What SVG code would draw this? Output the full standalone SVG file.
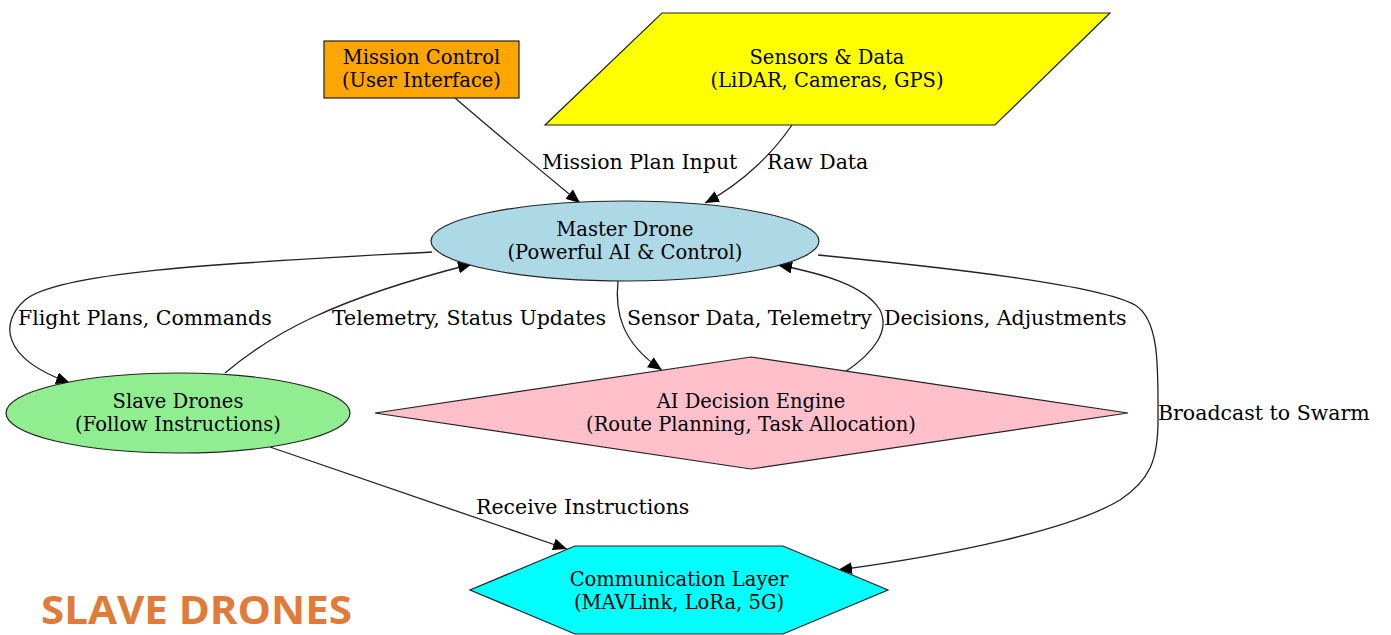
<svg xmlns="http://www.w3.org/2000/svg" width="1391" height="635" viewBox="0 0 1391 635">
  <style>
    .node { stroke: #222; stroke-width: 1.2; }
    .lbl { font-family: "DejaVu Serif", serif; font-size: 19.5px; fill: #000; text-anchor: middle; dominant-baseline: central; }
    .elbl { font-family: "DejaVu Serif", serif; font-size: 20.5px; fill: #000; dominant-baseline: central; }
    .edge { fill: none; stroke: #222; stroke-width: 1.3; marker-end: url(#arrow); }
    .title { font-family: "Open Sans", "Noto Sans", sans-serif; font-weight: bold; font-size: 40px; fill: #E07B39; }
  </style>
  <defs>
    <marker id="arrow" markerUnits="userSpaceOnUse" markerWidth="14" markerHeight="12" viewBox="0 0 14 12" refX="14" refY="6" orient="auto">
      <path d="M0,0 L14,6 L0,12 Z" fill="#000"/>
    </marker>
  </defs>
  <rect width="1391" height="635" fill="#fff"/>

  <g id="edges">
    <path class="edge" d="M455,98 C490,128 540,170 580,203"/>
    <path class="edge" d="M792,125 C775,150 745,182 705,203"/>
    <path class="edge" d="M432,252 C250,262 60,270 25,300 C0,322 0,358 70,383"/>
    <path class="edge" d="M225,373 C270,335 330,300 472,264"/>
    <path class="edge" d="M618,281 C615,310 620,342 662,370"/>
    <path class="edge" d="M845,372 C875,352 890,330 880,310 C865,285 820,273 778,265"/>
    <path class="edge" d="M818,255 C950,268 1100,285 1135,305 C1160,320 1158,370 1158,420 C1158,460 1150,480 1120,500 C1070,530 950,555 838,570"/>
    <path class="edge" d="M270,447 L567,549"/>
    <text class="elbl" x="542" y="162">Mission Plan Input</text>
    <text class="elbl" x="767" y="162">Raw Data</text>
    <text class="elbl" x="18" y="318">Flight Plans, Commands</text>
    <text class="elbl" x="332" y="318">Telemetry, Status Updates</text>
    <text class="elbl" x="627" y="318">Sensor Data, Telemetry</text>
    <text class="elbl" x="884" y="318">Decisions, Adjustments</text>
    <text class="elbl" x="1158" y="413">Broadcast to Swarm</text>
    <text class="elbl" x="476" y="507">Receive Instructions</text>
  </g>

  <g id="mission-control">
    <rect class="node" x="324" y="41" width="195" height="57" fill="#FFA500"/>
    <text class="lbl" x="421.5" y="57">Mission Control</text>
    <text class="lbl" x="421.5" y="80">(User Interface)</text>
  </g>

  <g id="sensors">
    <polygon class="node" points="662,13 1110,13 995,125 545,125" fill="#FFFF00"/>
    <text class="lbl" x="827" y="57">Sensors &amp; Data</text>
    <text class="lbl" x="827" y="80">(LiDAR, Cameras, GPS)</text>
  </g>

  <g id="master-drone">
    <ellipse class="node" cx="625" cy="241" rx="194" ry="40" fill="#ADD8E6"/>
    <text class="lbl" x="625" y="229">Master Drone</text>
    <text class="lbl" x="625" y="252">(Powerful AI &amp; Control)</text>
  </g>

  <g id="slave-drones">
    <ellipse class="node" cx="178" cy="413" rx="172" ry="40" fill="#90EE90"/>
    <text class="lbl" x="178" y="401">Slave Drones</text>
    <text class="lbl" x="178" y="424">(Follow Instructions)</text>
  </g>

  <g id="ai-engine">
    <polygon class="node" points="751,357 1128,413 751,469 375,413" fill="#FFC0CB"/>
    <text class="lbl" x="751" y="401">AI Decision Engine</text>
    <text class="lbl" x="751" y="424">(Route Planning, Task Allocation)</text>
  </g>

  <g id="comm-layer">
    <polygon class="node" points="575,546 783,546 888,590 783,634 575,634 470,590" fill="#00FFFF"/>
    <text class="lbl" x="679" y="579">Communication Layer</text>
    <text class="lbl" x="679" y="602">(MAVLink, LoRa, 5G)</text>
  </g>

  <text class="title" x="41" y="624" textLength="311" lengthAdjust="spacingAndGlyphs">SLAVE DRONES</text>
</svg>
